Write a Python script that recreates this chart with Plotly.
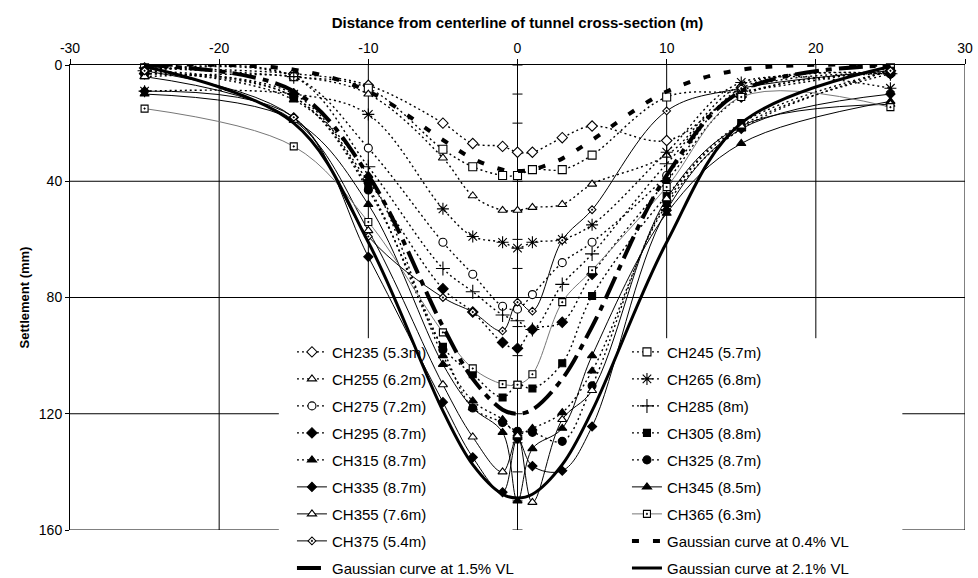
import plotly.graph_objects as go

# Offsets from the tunnel centreline (m)
X_POS = [-25, -15, -10, -5, -3, -1, 0, 1, 3, 5, 10, 15, 25]

# Measured surface settlement (mm) per chainage
CH235 = [1, 3, 7, 20, 27, 28, 30, 30, 25, 21, 26, 10, 2]
CH245 = [1, 4, 8, 29, 35, 38, 38, 36, 36, 31, 11, 9, 1]
CH255 = [4, 4, 10, 32, 45, 50, 50, 49, 48, 41, 31, 7, 3]
CH265 = [9, 10, 17, 49.5, 59, 61, 63, 61, 60, 55, 30, 6, 8]
CH275 = [2, 4, 28.6, 61, 72, 83, 84, 79, 68, 61, 38, 8, 3]
CH285 = [2, 4, 35, 70, 78, 86, 88, 91, 75.5, 65, 34, 9, 3]
CH295 = [3, 10, 40, 77, 85, 95.5, 97.5, 91, 88.5, 72, 40, 11, 3]
CH305 = [3, 11, 42, 97, 106.4, 114.4, 110, 111.3, 102.6, 79.5, 45, 20, 2]
CH315 = [2, 12, 38, 100, 115.6, 122, 127, 125, 119.6, 105.3, 48, 22, 2]
CH325 = [2, 11, 43, 98, 118, 123, 126, 126.4, 129.5, 110.4, 47, 21, 3]
CH335 = [9, 18, 66, 116, 135, 147, 128.7, 138, 139.6, 124.4, 50, 22, 10]
CH345 = [10, 19, 48, 103, 118, 126.4, 150, 132, 125, 100, 51, 27, 12.5]
CH355 = [4, 19, 57, 110, 128, 140, 127.6, 150.5, 122, 112, 46, 21, 13.5]
CH365 = [15, 28, 54, 92, 104.4, 109.8, 110, 106.4, 81.6, 70.6, 42, 11, 14.5]
CH375 = [2, 18, 59, 80, 85, 91.5, 81.6, 84.7, 60.3, 49.8, 15.8, 8, 2]

# Gaussian settlement troughs (mm) at the same offsets
GAUSS_04 = [0.0, 1.6, 9.1, 25.8, 32.2, 36.0, 36.5, 36.0, 32.2, 25.8, 9.1, 1.6, 0.0]
GAUSS_15 = [0.1, 9.0, 38.0, 90.0, 108.0, 118.6, 120.0, 118.6, 108.0, 90.0, 38.0, 9.0, 0.1]
GAUSS_21 = [0.5, 20.0, 61.0, 119.0, 137.5, 147.7, 149.0, 147.7, 137.5, 119.0, 61.0, 20.0, 0.5]

SERIES_NAMES = ["CH235 (5.3m)", "CH245 (5.7m)", "CH255 (6.2m)", "CH265 (6.8m)",
                "CH275 (7.2m)", "CH285 (8m)", "CH295 (8.7m)", "CH305 (8.8m)",
                "CH315 (8.7m)", "CH325 (8.7m)", "CH335 (8.7m)", "CH345 (8.5m)",
                "CH355 (7.6m)", "CH365 (6.3m)", "CH375 (5.4m)"]
GAUSS_NAMES = ["Gaussian curve at 0.4% VL", "Gaussian curve at 1.5% VL",
               "Gaussian curve at 2.1% VL"]

X_TICKS = [-30, -20, -10, 0, 10, 20, 30]
X_TICK_TEXT = ["-30", "-20", "-10", "0", "10", "20", "30"]
Y_TICKS = [0, 40, 80, 120, 160]

FONT = "Liberation Sans, Arial, sans-serif"
NARROW = "Liberation Sans Narrow, Arial Narrow, Liberation Sans, Arial, sans-serif"

DOT = dict(color="black", width=1.4, dash="2px,3px")
SOLID = dict(color="black", width=1)
GREY = dict(color="#777777", width=1)

# (values, line style, marker symbol, marker fill, marker size, legend column)
styles = [
    (CH235, DOT, "diamond", "white", 8, "legend"),
    (CH245, DOT, "square", "white", 8, "legend2"),
    (CH255, DOT, "triangle-up", "white", 8, "legend"),
    (CH265, DOT, "asterisk-open", "black", 10, "legend2"),
    (CH275, DOT, "circle", "white", 8, "legend"),
    (CH285, DOT, "cross-thin-open", "black", 10, "legend2"),
    (CH295, DOT, "diamond", "black", 8, "legend"),
    (CH305, DOT, "square", "black", 7, "legend2"),
    (CH315, DOT, "triangle-up", "black", 8, "legend"),
    (CH325, DOT, "circle", "black", 8, "legend2"),
    (CH335, SOLID, "diamond", "black", 7, "legend"),
    (CH345, SOLID, "triangle-up", "black", 8, "legend2"),
    (CH355, SOLID, "triangle-up", "white", 8, "legend"),
    (CH365, GREY, "square-dot", "white", 7, "legend2"),
    (CH375, SOLID, "diamond-dot", "white", 6, "legend"),
]

fig = go.Figure()

for name, (vals, line, sym, fill, size, leg) in zip(SERIES_NAMES, styles):
    fig.add_trace(go.Scatter(
        x=X_POS, y=vals, name=name, mode="lines+markers",
        line=dict(shape="spline", smoothing=1, **line),
        marker=dict(symbol=sym, size=size, color=fill,
                    line=dict(color="black", width=1.1)),
        legend=leg, legendgroup=name, cliponaxis=False,
    ))

gauss_styles = [
    (GAUSS_04, dict(color="black", width=4, dash="7px,14px"), "legend2"),
    (GAUSS_15, dict(color="black", width=4, dash="24px,7px,6px,7px"), "legend"),
    (GAUSS_21, dict(color="black", width=3), "legend2"),
]
for name, (vals, line, leg) in zip(GAUSS_NAMES, gauss_styles):
    fig.add_trace(go.Scatter(
        x=X_POS, y=vals, name=name, mode="lines",
        line=dict(shape="spline", smoothing=1, **line),
        legend=leg, legendgroup=name,
    ))

# Gridlines stop where the legend block sits over the lower plot area
LEG_X0, LEG_X1, LEG_Y0 = -16.0, 25.8, 94.0
x_min, x_max = X_TICKS[0], X_TICKS[-1]
y_min, y_max = Y_TICKS[0], Y_TICKS[-1]
grid = dict(color="black", width=1)
shapes = []
for gy in Y_TICKS[1:]:
    if gy < LEG_Y0:
        spans = [(x_min, x_max)]
    else:
        spans = [(x_min, LEG_X0), (LEG_X1, x_max)]
    for a, b in spans:
        shapes.append(dict(type="line", xref="x", yref="y", x0=a, x1=b,
                           y0=gy, y1=gy, line=grid, layer="below"))
for gx in X_TICKS[1:]:
    if gx == 0:
        continue
    top = LEG_Y0 if LEG_X0 < gx < LEG_X1 else y_max
    shapes.append(dict(type="line", xref="x", yref="y", x0=gx, x1=gx,
                       y0=y_min, y1=top, line=grid, layer="below"))

# Value axis crossing at the centreline, with cross ticks every 10 mm
shapes.append(dict(type="line", xref="x", yref="y", x0=0, x1=0,
                   y0=y_min, y1=y_max, line=grid, layer="below"))
for t in range(y_min, y_max + 1, 10):
    shapes.append(dict(type="line", xref="x", yref="y", xsizemode="pixel",
                       xanchor=0, x0=-5, x1=5, y0=t, y1=t,
                       line=grid, layer="below"))

legend_common = dict(
    xanchor="left", yanchor="top", bgcolor="rgba(0,0,0,0)",
    font=dict(family=FONT, size=15, color="black"),
    traceorder="grouped", tracegroupgap=4.5, itemwidth=30,
)

fig.update_layout(
    width=978, height=578,
    margin=dict(l=70, r=13, t=65, b=48, autoexpand=False),
    paper_bgcolor="white", plot_bgcolor="white",
    showlegend=True,
    shapes=shapes,
    legend=dict(x=0.248, y=0.418, **legend_common),
    legend2=dict(x=0.6223, y=0.418, **legend_common),
    xaxis=dict(
        range=[x_min, x_max], side="top", tickvals=X_TICKS, ticktext=X_TICK_TEXT,
        showgrid=False, zeroline=False, showline=True, linecolor="black",
        linewidth=1, ticks="outside", ticklen=5, tickcolor="black",
        tickfont=dict(family=FONT, size=14, color="black"),
        title=dict(text="<b>Distance from centerline of tunnel cross-section (m)</b>",
                   font=dict(family=NARROW, size=15, color="black"), standoff=8),
    ),
    yaxis=dict(
        range=[y_max, y_min], tickvals=Y_TICKS,
        showgrid=False, zeroline=False, showline=True, linecolor="black",
        linewidth=1, ticks="outside", ticklen=4, tickcolor="black",
        tickfont=dict(family=FONT, size=14, color="black"),
        title=dict(text="<b>Settlement (mm)</b>",
                   font=dict(family=NARROW, size=13, color="black"), standoff=6),
    ),
)

fig.write_html("out.html")
